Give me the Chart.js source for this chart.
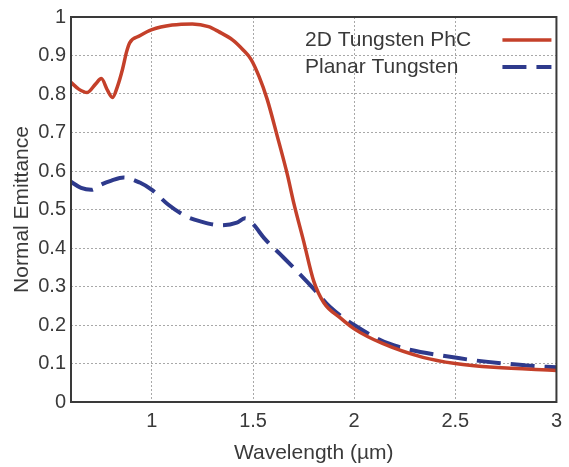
<!DOCTYPE html>
<html>
<head>
<meta charset="utf-8">
<script src="https://cdn.jsdelivr.net/npm/chart.js@4"></script>
<style>
  html, body { margin: 0; padding: 0; background: #fff; }
  #wrap { width: 569px; height: 467px; }
</style>
</head>
<body>
<div id="wrap"><canvas id="chart" width="569" height="467"></canvas></div>
<script>
// wavelength (um) and emittance
const phcX = [0.6, 0.64, 0.68, 0.72, 0.75, 0.78, 0.805, 0.83, 0.855, 0.875, 0.89, 0.94, 1.0, 1.1, 1.2, 1.28, 1.33, 1.4, 1.45, 1.49, 1.53, 1.57, 1.62, 1.67, 1.7, 1.75, 1.8, 1.85, 1.93, 2.0, 2.14, 2.34, 2.5, 2.69, 3.0];
const phcY = [0.83, 0.812, 0.804, 0.825, 0.84, 0.81, 0.791, 0.82, 0.865, 0.91, 0.933, 0.951, 0.967, 0.979, 0.982, 0.975, 0.962, 0.94, 0.915, 0.89, 0.845, 0.786, 0.69, 0.59, 0.52, 0.418, 0.314, 0.258, 0.219, 0.19, 0.152, 0.116, 0.1, 0.09, 0.082];

const planarX = [0.6, 0.65, 0.7, 0.75, 0.8, 0.86, 0.94, 1.0, 1.08, 1.17, 1.24, 1.34, 1.42, 1.46, 1.5, 1.556, 1.634, 1.717, 1.8, 1.878, 2.0, 2.17, 2.49, 2.85, 3.0];
const planarY = [0.572, 0.556, 0.551, 0.565, 0.575, 0.583, 0.57, 0.551, 0.513, 0.482, 0.469, 0.459, 0.466, 0.477, 0.462, 0.425, 0.384, 0.34, 0.294, 0.248, 0.2, 0.152, 0.116, 0.095, 0.09];

const xTicks = [1, 1.5, 2, 2.5, 3];
const yTicks = [0, 0.1, 0.2, 0.3, 0.4, 0.5, 0.6, 0.7, 0.8, 0.9, 1];

const seriesNames = ['2D Tungsten PhC', 'Planar Tungsten'];

const FONT = '"Liberation Sans", Arial, sans-serif';
const TXT = '#3a3a3a';

function pts(xs, ys) {
  return xs.map((x, i) => ({ x: x, y: ys[i] }));
}

// plot frame on all four sides
const framePlugin = {
  id: 'frame',
  afterDraw(chart) {
    const a = chart.chartArea, c = chart.ctx;
    c.save();
    c.strokeStyle = '#3a3a3a';
    c.lineWidth = 2;
    c.strokeRect(a.left, a.top, a.right - a.left, a.bottom - a.top);
    c.restore();
  }
};

// legend: text on the left, line sample on the right
const legendPlugin = {
  id: 'sideLegend',
  afterDraw(chart) {
    const c = chart.ctx, a = chart.chartArea;
    c.save();
    c.font = '21px ' + FONT;
    c.textBaseline = 'middle';
    c.textAlign = 'left';
    chart.data.datasets.forEach((ds, i) => {
      const y = a.top + 23 + i * 27;
      c.fillStyle = TXT;
      c.fillText(ds.label, a.left + 234, y);
      c.strokeStyle = ds.borderColor;
      c.lineWidth = ds.borderWidth;
      c.setLineDash(ds.borderDash || []);
      c.beginPath();
      c.moveTo(a.right - 54, y);
      c.lineTo(a.right - 5, y);
      c.stroke();
    });
    c.restore();
  }
};

new Chart(document.getElementById('chart'), {
  type: 'line',
  data: {
    datasets: [{
      label: seriesNames[0],
      data: pts(phcX, phcY),
      borderColor: '#c4402a',
      borderWidth: 3.5,
      pointRadius: 0,
      cubicInterpolationMode: 'monotone'
    }, {
      label: seriesNames[1],
      data: pts(planarX, planarY),
      borderColor: '#2e3a8c',
      borderWidth: 4,
      borderDash: [24, 10],
      pointRadius: 0,
      cubicInterpolationMode: 'monotone'
    }]
  },
  options: {
    responsive: false,
    animation: false,
    layout: { padding: { left: 0, right: 7, top: 14, bottom: 0 } },
    plugins: { legend: { display: false }, tooltip: { enabled: false } },
    scales: {
      x: {
        type: 'linear',
        min: 0.6,
        max: 3,
        afterBuildTicks: (s) => { s.ticks = xTicks.map(v => ({ value: v })); },
        afterFit: (s) => { s.height = 65; },
        grid: { color: '#a8a8a8', drawTicks: false },
        border: { display: false, dash: [2, 2] },
        ticks: { color: TXT, font: { family: FONT, size: 20 }, padding: 7, maxRotation: 0,
                 callback: (v) => String(v) },
        title: { display: true, text: 'Wavelength (µm)', color: TXT,
                 font: { family: FONT, size: 21 }, padding: { top: 0, bottom: 1 } }
      },
      y: {
        min: 0,
        max: 1,
        afterBuildTicks: (s) => { s.ticks = yTicks.map(v => ({ value: v })); },
        afterFit: (s) => { s.width = 71; },
        grid: { color: '#a8a8a8', drawTicks: false },
        border: { display: false, dash: [2, 2] },
        ticks: { color: TXT, font: { family: FONT, size: 20 }, padding: 5,
                 callback: (v) => String(v) },
        title: { display: true, text: 'Normal Emittance', color: TXT,
                 font: { family: FONT, size: 21 }, padding: { top: 10, bottom: 0 } }
      }
    }
  },
  plugins: [framePlugin, legendPlugin]
});
</script>
</body>
</html>
